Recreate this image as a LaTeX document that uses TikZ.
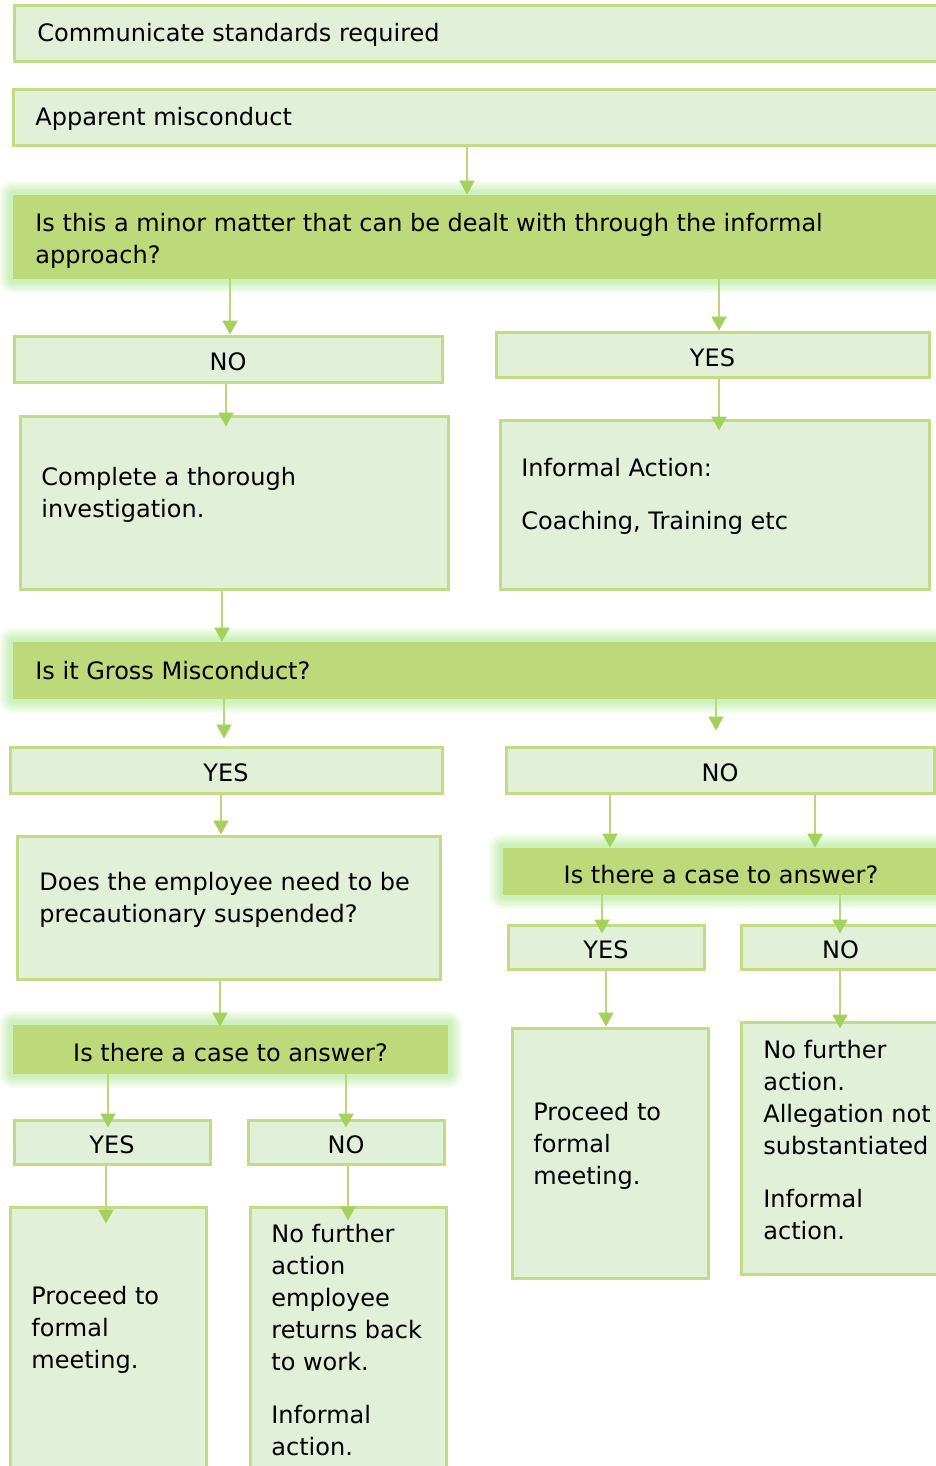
\documentclass[tikz,border=0pt]{standalone}
\usepackage{fontspec}
\setmainfont{DejaVu Sans}
\usetikzlibrary{arrows.meta,fit}

\definecolor{lfill}{HTML}{E2EFD9}
\definecolor{lline}{HTML}{C2DC84}
\definecolor{qfill}{HTML}{BDD97A}
\definecolor{glow}{HTML}{BDEBA6}
\definecolor{arr}{HTML}{B9D879}
\definecolor{tip}{HTML}{A3D15C}

\tikzset{
  lbox/.style={draw=lline,line width=1.5pt,fill=lfill,inner sep=0pt},
  qbox/.style={fill=qfill,inner sep=0pt,
    preaction={draw=glow,line width=14pt,line join=round,opacity=0.15},
    preaction={draw=glow,line width=12pt,line join=round,opacity=0.15},
    preaction={draw=glow,line width=10pt,line join=round,opacity=0.18},
    preaction={draw=glow,line width=8pt,line join=round,opacity=0.2},
    preaction={draw=glow,line width=6pt,line join=round,opacity=0.25},
    preaction={draw=glow,line width=4pt,line join=round,opacity=0.3}},
  lab/.style={inner sep=0pt,yshift=-1.5pt},
  txt/.style={inner sep=0pt,align=left,anchor=north west,execute at begin node=\strut},
  flow/.style={draw=arr,line width=1pt,-{Triangle[width=7.5pt,length=7pt,color=tip]}},
}

\begin{document}
\begin{tikzpicture}[x=0.5pt,y=-0.5pt,font=\fontsize{12}{16}\selectfont]
\useasboundingbox (0,0) rectangle (936,1466);
\clip (0,0) rectangle (936,1466);
% boxes
\node[lbox,fit={(14,6) (950,62)}] (b1) {};
\node[lbox,fit={(13,90) (950,146)}] (b2) {};
\node[qbox,fit={(13,195) (950,279)}] (q1) {};
\node[lbox,fit={(14,336) (442,382)}] (no1) {};
\node[lbox,fit={(496,332) (929,377)}] (yes1) {};
\node[lbox,fit={(20,416) (448,589)}] (b3) {};
\node[lbox,fit={(500,420) (929,589)}] (b4) {};
\node[qbox,fit={(13,642) (950,699)}] (q2) {};
\node[lbox,fit={(10,747) (442,793)}] (yes2) {};
\node[lbox,fit={(506,747) (934,793)}] (no2) {};
\node[lbox,fit={(17,836) (440,979)}] (b5) {};
\node[qbox,fit={(503,848) (939,895)}] (q3) {};
\node[lbox,fit={(508,925) (704,969)}] (yes3) {};
\node[lbox,fit={(741,925) (940,969)}] (no3) {};
\node[lbox,fit={(512,1028) (708,1278)}] (b6) {};
\node[lbox,fit={(741,1022) (950,1274)}] (b7) {};
\node[qbox,fit={(13,1025) (448,1074)}] (q4) {};
\node[lbox,fit={(14,1120) (210,1164)}] (yes4) {};
\node[lbox,fit={(248,1120) (444,1164)}] (no4) {};
\node[lbox,fit={(10,1207) (206,1490)}] (b8) {};
\node[lbox,fit={(250,1207) (446,1490)}] (b9) {};
% labels
\node[lab] (no1t) at (no1) {NO};
\node[lab] (yes1t) at (yes1) {YES};
\node[lab] (yes2t) at (yes2) {YES};
\node[lab] (no2t) at (no2) {NO};
\node[lab] (q3t) at (q3) {Is there a case to answer?};
\node[lab] (yes3t) at (yes3) {YES};
\node[lab] (no3t) at (no3) {NO};
\node[lab] (q4t) at (q4) {Is there a case to answer?};
\node[lab] (yes4t) at (yes4) {YES};
\node[lab] (no4t) at (no4) {NO};
% texts
\node[txt] (t1) at (37,19) {Communicate standards required};
\node[txt] (t2) at (35,103) {Apparent misconduct};
\node[txt] (q1t) at (35,213) {Is this a minor matter that can be dealt with through the informal\\approach?};
\node[txt] (t3) at (41,467) {Complete a thorough\\investigation.};
\node[txt] (t4) at (521,458) {Informal Action:\\[10.5pt]Coaching, Training etc};
\node[txt] (q2t) at (35,657) {Is it Gross Misconduct?};
\node[txt] (t5) at (39,872) {Does the employee need to be\\precautionary suspended?};
\node[txt] (t6) at (533,1102) {Proceed to\\formal\\meeting.};
\node[txt] (t7) at (763,1040) {No further\\action.\\Allegation not\\substantiated\\[10.5pt]Informal\\action.};
\node[txt] (t8) at (31,1286) {Proceed to\\formal\\meeting.};
\node[txt] (t9) at (271,1224) {No further\\action\\employee\\returns back\\to work.\\[10.5pt]Informal\\action.};
% arrows
\foreach \x/\a/\b/\s in {467/b2/q1/0pt, 230/q1/no1/0pt, 719/q1/yes1/0pt,
    226/no1/b3/-6pt, 719/yes1/b4/-6pt, 222/b3/q2/0pt,
    224/q2/yes2/3.5pt, 716/q2/no2/7.5pt, 221/yes2/b5/0pt,
    610/no2/q3/0pt, 815/no2/q3/0pt, 602/q3/yes3/-5pt, 840/q3/no3/-5pt,
    606/yes3/b6/0pt, 840/no3/b7/-4pt, 220/b5/q4/-1pt,
    108/q4/yes4/-4.5pt, 346/q4/no4/-4.5pt, 106/yes4/b8/-9pt, 348/no4/b9/-7.5pt}
  {\draw[flow,shorten >=\s] (\x,0 |- \a.south) -- (\x,0 |- \b.north);}
\end{tikzpicture}
\end{document}
